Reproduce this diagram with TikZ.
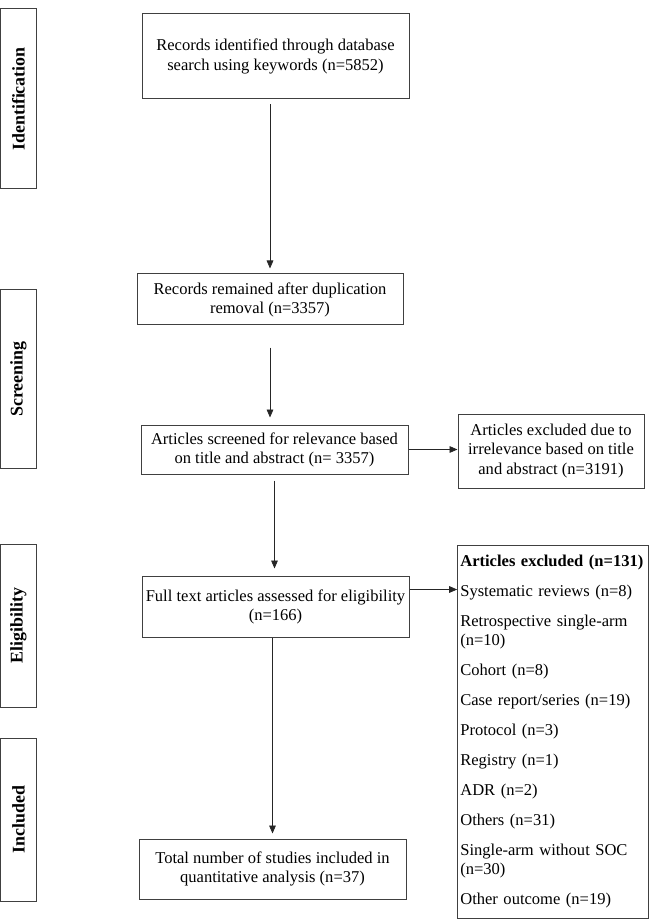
\documentclass[tikz,border=0pt]{standalone}
\usepackage{fontspec}
\setmainfont{Liberation Serif}
\usetikzlibrary{arrows.meta}

\begin{document}
\begin{tikzpicture}[x=0.75pt,y=-0.75pt]
\tikzstyle{box}=[draw=black!75,line width=0.75pt,align=center,inner sep=2pt,font=\fontsize{12.4}{14.3}\selectfont];
\tikzstyle{side}=[draw=black!75,line width=0.75pt,minimum height=27pt,rotate=90,font=\fontsize{13.4}{15}\selectfont\bfseries];
\tikzstyle{arrow}=[-{Triangle[length=6pt,width=5pt]},line width=0.6pt,black!85];
\useasboundingbox (0,0) rectangle (650,919);
% phases on the left
\node (id) [side,minimum width=135pt] at (18.5,99) {Identification};
\node (scr) [side,minimum width=133.5pt] at (18.5,379) {Screening};
\node (elig) [side,minimum width=122.25pt] at (18.5,625.5) {Eligibility};
\node (incl) [side,minimum width=122.25pt] at (18.5,819.5) {Included};
% main flow
\node (1) [box,minimum width=200.25pt,minimum height=63.75pt] at (275.5,56.5) {Records identified through database\\search using keywords (n=5852)};
\node (2) [box,minimum width=199.5pt,minimum height=38.25pt] at (270,299.5) {Records remained after duplication\\removal (n=3357)};
\node (3) [box,minimum width=200.25pt,minimum height=36.75pt] at (274.5,449.5) {Articles screened for relevance based\\on title and abstract (n= 3357)};
\node (4) [box,minimum width=139.5pt,minimum height=55.5pt] at (551,451) {Articles excluded due to\\irrelevance based on title\\and abstract (n=3191)};
\node (5) [box,minimum width=200.25pt,minimum height=45.75pt] at (275.5,606.5) {Full text articles assessed for eligibility\\(n=166)};
\node (6) [box,align=left,text width=139pt,minimum width=142.5pt,minimum height=279.75pt] at (553,731.5) {\textbf{Articles excluded (n=131)}\\[8.25pt]
Systematic reviews (n=8)\\[8.25pt]
Retrospective single-arm\\(n=10)\\[8.25pt]
Cohort (n=8)\\[8.25pt]
Case report/series (n=19)\\[8.25pt]
Protocol (n=3)\\[8.25pt]
Registry (n=1)\\[8.25pt]
ADR (n=2)\\[8.25pt]
Others (n=31)\\[8.25pt]
Single-arm without SOC\\(n=30)\\[8.25pt]
Other outcome (n=19)};
\node (7) [box,minimum width=200.25pt,minimum height=45pt] at (272.5,869) {Total number of studies included in\\quantitative analysis (n=37)};
\coordinate (h5) at ([yshift=-10.5pt]5.north east);
\draw [arrow,shorten <=3.75pt,shorten >=3.75pt] (1.south -| 2.north) -- (2.north);
\draw [arrow,shorten <=16.5pt,shorten >=5.25pt] (2.south) -- (2.south |- 3.north);
\draw [arrow,shorten <=4.5pt,shorten >=5.25pt] (3.south) -- (3.south |- 5.north);
\draw [arrow,shorten >=3.75pt] (5.south -| 7.north) -- (7.north);
\draw [arrow] (3.east) -- (3.east -| 4.west);
\draw [arrow] (h5) -- (h5 -| 6.west);
\end{tikzpicture}
\end{document}
